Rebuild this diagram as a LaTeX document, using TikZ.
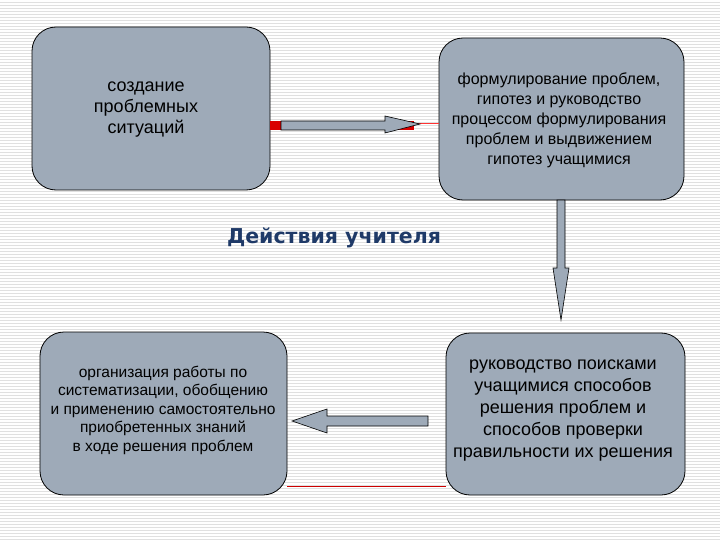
\documentclass[tikz,border=0pt]{standalone}
\usepackage{fontspec}
\setmainfont{Liberation Sans}
\newfontfamily\titlefont{DejaVu Sans}
\begin{document}
\begin{tikzpicture}[x=1pt,y=-1pt,
  box/.style={draw=black,fill=boxgray,rounded corners=24pt,line width=0.8pt},
  arr/.style={draw=black,fill=arrgray,line width=0.6pt}]
\definecolor{boxgray}{HTML}{9EAAB8}
\definecolor{arrgray}{HTML}{9EAAB8}
\definecolor{titleblue}{HTML}{1F3A68}
\useasboundingbox (0,0) rectangle (720,540);
\fill[white] (0,0) rectangle (720,540);
\foreach \y in {2,5,...,540} \draw[black!12,line width=0.5pt] (0,\y) -- (720,\y);
% boxes
\draw[box] (32,27) rectangle (270,190);
\draw[box] (439,38) rectangle (684,200);
\draw[box] (40,332) rectangle (287,495);
\draw[box] (446,333) rectangle (685,495);
\node (a) [align=center,font=\fontsize{18}{21}\selectfont] at (146,110) {создание\\проблемных\\ситуаций};
\node (b) [align=center,font=\fontsize{16}{20}\selectfont] at (559,120) {формулирование проблем,\\гипотез и руководство\\процессом формулирования\\проблем и выдвижением\\гипотез учащимися};
\node (c) [align=center,font=\fontsize{15.5}{18.5}\selectfont] at (163,410) {организация работы по\\систематизации, обобщению\\и применению самостоятельно\\приобретенных знаний\\в ходе решения проблем};
\node (d) [align=center,font=\fontsize{18}{22}\selectfont] at (563,411) {руководство поисками\\учащимися способов\\решения проблем и\\способов проверки\\правильности их решения};
\node (t) [font=\titlefont\bfseries\fontsize{20.5}{24}\selectfont,text=titleblue] at (334,238) {Действия учителя};
% red lines
\fill[red!85!black] (270,121) rectangle (414,130);
\draw[red!80,line width=0.6pt] (414,123) -- (439,123);
\draw[red!80!black,line width=0.8pt] (287,486) -- (446,486);
% top arrow
\draw[arr] (281,121) -- (385,121) -- (385,116) -- (420,124) -- (385,133) -- (385,130) -- (281,130) -- cycle;
% down arrow
\draw[arr] (557,200) -- (565,200) -- (565,268) -- (569,268) -- (561,320) -- (553,268) -- (557,268) -- cycle;
% left arrow
\draw[arr] (428,416) -- (327,416) -- (327,409) -- (292,421) -- (327,433) -- (327,426) -- (428,426) -- cycle;
\end{tikzpicture}
\end{document}
